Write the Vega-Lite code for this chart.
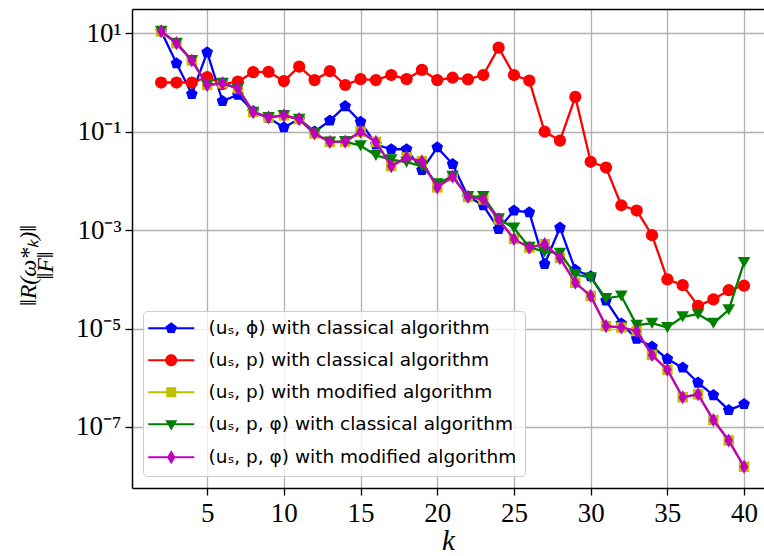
{
  "$schema": "https://vega.github.io/schema/vega-lite/v6.json",
  "width": 632,
  "height": 479,
  "autosize": {"type": "none"},
  "padding": {"left": 132, "top": 9, "right": 0, "bottom": 68},
  "background": "white",
  "config": {"view": {"stroke": null}},
  "data": {"values": [
    {"k":2,"s":"a","v":11},{"k":3,"s":"a","v":2.45},{"k":4,"s":"a","v":0.58},{"k":5,"s":"a","v":4.1},{"k":6,"s":"a","v":0.42},{"k":7,"s":"a","v":0.56},{"k":8,"s":"a","v":0.26},{"k":9,"s":"a","v":0.19},{"k":10,"s":"a","v":0.123},{"k":11,"s":"a","v":0.18},{"k":12,"s":"a","v":0.1},{"k":13,"s":"a","v":0.168},{"k":14,"s":"a","v":0.33},{"k":15,"s":"a","v":0.158},{"k":16,"s":"a","v":0.055},{"k":17,"s":"a","v":0.044},{"k":18,"s":"a","v":0.044},{"k":19,"s":"a","v":0.0166},{"k":20,"s":"a","v":0.048},{"k":21,"s":"a","v":0.022},{"k":22,"s":"a","v":0.0048},{"k":23,"s":"a","v":0.0032},{"k":24,"s":"a","v":0.00105},{"k":25,"s":"a","v":0.0025},{"k":26,"s":"a","v":0.0023},{"k":27,"s":"a","v":0.000205},{"k":28,"s":"a","v":0.00112},{"k":29,"s":"a","v":0.000155},{"k":30,"s":"a","v":0.000115},{"k":31,"s":"a","v":0.000037},{"k":32,"s":"a","v":0.0000125},{"k":33,"s":"a","v":0.0000062},{"k":34,"s":"a","v":0.0000043},{"k":35,"s":"a","v":0.0000024},{"k":36,"s":"a","v":0.0000016},{"k":37,"s":"a","v":0.00000079},{"k":38,"s":"a","v":0.00000044},{"k":39,"s":"a","v":0.00000022},{"k":40,"s":"a","v":0.00000029},
    {"k":2,"s":"b","v":1.0},{"k":3,"s":"b","v":1.0},{"k":4,"s":"b","v":1.0},{"k":5,"s":"b","v":1.28},{"k":6,"s":"b","v":0.93},{"k":7,"s":"b","v":1.04},{"k":8,"s":"b","v":1.62},{"k":9,"s":"b","v":1.65},{"k":10,"s":"b","v":1.07},{"k":11,"s":"b","v":2.1},{"k":12,"s":"b","v":1.12},{"k":13,"s":"b","v":1.7},{"k":14,"s":"b","v":0.89},{"k":15,"s":"b","v":1.17},{"k":16,"s":"b","v":1.12},{"k":17,"s":"b","v":1.42},{"k":18,"s":"b","v":1.17},{"k":19,"s":"b","v":1.8},{"k":20,"s":"b","v":1.12},{"k":21,"s":"b","v":1.25},{"k":22,"s":"b","v":1.16},{"k":23,"s":"b","v":1.42},{"k":24,"s":"b","v":5.1},{"k":25,"s":"b","v":1.42},{"k":26,"s":"b","v":1.09},{"k":27,"s":"b","v":0.1},{"k":28,"s":"b","v":0.066},{"k":29,"s":"b","v":0.51},{"k":30,"s":"b","v":0.0245},{"k":31,"s":"b","v":0.0187},{"k":32,"s":"b","v":0.0032},{"k":33,"s":"b","v":0.0025},{"k":34,"s":"b","v":0.00079},{"k":35,"s":"b","v":0.0001},{"k":36,"s":"b","v":0.000076},{"k":37,"s":"b","v":0.000029},{"k":38,"s":"b","v":0.000039},{"k":39,"s":"b","v":0.00006},{"k":40,"s":"b","v":0.000074},
    {"k":2,"s":"c","v":11},{"k":3,"s":"c","v":6.3},{"k":4,"s":"c","v":2.8},{"k":5,"s":"c","v":0.89},{"k":6,"s":"c","v":0.97},{"k":7,"s":"c","v":0.76},{"k":8,"s":"c","v":0.25},{"k":9,"s":"c","v":0.195},{"k":10,"s":"c","v":0.215},{"k":11,"s":"c","v":0.18},{"k":12,"s":"c","v":0.092},{"k":13,"s":"c","v":0.062},{"k":14,"s":"c","v":0.063},{"k":15,"s":"c","v":0.1},{"k":16,"s":"c","v":0.062},{"k":17,"s":"c","v":0.02},{"k":18,"s":"c","v":0.03},{"k":19,"s":"c","v":0.025},{"k":20,"s":"c","v":0.0074},{"k":21,"s":"c","v":0.0123},{"k":22,"s":"c","v":0.0047},{"k":23,"s":"c","v":0.0042},{"k":24,"s":"c","v":0.00165},{"k":25,"s":"c","v":0.00066},{"k":26,"s":"c","v":0.00044},{"k":27,"s":"c","v":0.00052},{"k":28,"s":"c","v":0.00027},{"k":29,"s":"c","v":0.000085},{"k":30,"s":"c","v":0.000046},{"k":31,"s":"c","v":0.0000112},{"k":32,"s":"c","v":0.0000105},{"k":33,"s":"c","v":0.0000089},{"k":34,"s":"c","v":0.0000029},{"k":35,"s":"c","v":0.00000145},{"k":36,"s":"c","v":0.0000004},{"k":37,"s":"c","v":0.00000046},{"k":38,"s":"c","v":0.000000138},{"k":39,"s":"c","v":0.000000053},{"k":40,"s":"c","v":0.0000000155},
    {"k":2,"s":"d","v":11},{"k":3,"s":"d","v":6.3},{"k":4,"s":"d","v":2.8},{"k":5,"s":"d","v":0.89},{"k":6,"s":"d","v":0.97},{"k":7,"s":"d","v":0.76},{"k":8,"s":"d","v":0.25},{"k":9,"s":"d","v":0.195},{"k":10,"s":"d","v":0.215},{"k":11,"s":"d","v":0.18},{"k":12,"s":"d","v":0.092},{"k":13,"s":"d","v":0.062},{"k":14,"s":"d","v":0.063},{"k":15,"s":"d","v":0.052},{"k":16,"s":"d","v":0.033},{"k":17,"s":"d","v":0.027},{"k":18,"s":"d","v":0.024},{"k":19,"s":"d","v":0.02},{"k":20,"s":"d","v":0.0088},{"k":21,"s":"d","v":0.0125},{"k":22,"s":"d","v":0.0048},{"k":23,"s":"d","v":0.0048},{"k":24,"s":"d","v":0.0017},{"k":25,"s":"d","v":0.0011},{"k":26,"s":"d","v":0.00045},{"k":27,"s":"d","v":0.00036},{"k":28,"s":"d","v":0.00034},{"k":29,"s":"d","v":0.000125},{"k":30,"s":"d","v":0.000108},{"k":31,"s":"d","v":0.000041},{"k":32,"s":"d","v":0.000046},{"k":33,"s":"d","v":0.0000117},{"k":34,"s":"d","v":0.0000128},{"k":35,"s":"d","v":0.0000105},{"k":36,"s":"d","v":0.0000173},{"k":37,"s":"d","v":0.0000195},{"k":38,"s":"d","v":0.0000128},{"k":39,"s":"d","v":0.000024},{"k":40,"s":"d","v":0.00022},
    {"k":2,"s":"e","v":11},{"k":3,"s":"e","v":6.3},{"k":4,"s":"e","v":2.8},{"k":5,"s":"e","v":0.89},{"k":6,"s":"e","v":0.97},{"k":7,"s":"e","v":0.76},{"k":8,"s":"e","v":0.25},{"k":9,"s":"e","v":0.195},{"k":10,"s":"e","v":0.215},{"k":11,"s":"e","v":0.18},{"k":12,"s":"e","v":0.092},{"k":13,"s":"e","v":0.062},{"k":14,"s":"e","v":0.063},{"k":15,"s":"e","v":0.1},{"k":16,"s":"e","v":0.062},{"k":17,"s":"e","v":0.02},{"k":18,"s":"e","v":0.03},{"k":19,"s":"e","v":0.025},{"k":20,"s":"e","v":0.0074},{"k":21,"s":"e","v":0.0123},{"k":22,"s":"e","v":0.0047},{"k":23,"s":"e","v":0.0042},{"k":24,"s":"e","v":0.00165},{"k":25,"s":"e","v":0.00066},{"k":26,"s":"e","v":0.00044},{"k":27,"s":"e","v":0.00052},{"k":28,"s":"e","v":0.00027},{"k":29,"s":"e","v":0.000085},{"k":30,"s":"e","v":0.000046},{"k":31,"s":"e","v":0.0000112},{"k":32,"s":"e","v":0.0000105},{"k":33,"s":"e","v":0.0000089},{"k":34,"s":"e","v":0.0000029},{"k":35,"s":"e","v":0.00000145},{"k":36,"s":"e","v":0.0000004},{"k":37,"s":"e","v":0.00000046},{"k":38,"s":"e","v":0.000000138},{"k":39,"s":"e","v":0.000000053},{"k":40,"s":"e","v":0.0000000155}
  ]},
  "resolve": {"axis": {"x": "independent", "y": "independent"}},
  "layer": [
    {
      "transform": [{"filter": {"field": "s", "equal": "a"}}],
      "mark": {"type": "line", "strokeWidth": 2.3, "color": "#0000ff"},
      "encoding": {
        "x": {"field": "k", "type": "quantitative", "scale": {"domain": [0.1, 41.3], "nice": false, "zero": false},
          "axis": {"orient": "bottom", "values": [5,10,15,20,25,30,35,40], "grid": true, "gridColor": "#b0b0b0", "gridWidth": 1.3,
            "domain": true, "domainColor": "black", "domainWidth": 1.5, "ticks": true, "tickColor": "black", "tickSize": 7, "tickWidth": 1.3,
            "labelFont": "Liberation Serif", "labelFontSize": 27, "labelColor": "black", "labelPadding": 5,
            "title": "k", "titleFont": "Liberation Serif", "titleFontStyle": "italic", "titleFontWeight": "normal", "titleFontSize": 29, "titleColor": "black", "titlePadding": 0}},
        "y": {"field": "v", "type": "quantitative", "scale": {"type": "log", "domain": [5.73e-9, 31.2], "nice": false},
          "axis": {"values": [10, 0.1, 0.001, 0.00001, 0.0000001], "grid": true, "gridColor": "#b0b0b0", "gridWidth": 1.3,
            "domain": true, "domainColor": "black", "domainWidth": 1.5, "ticks": true, "tickColor": "black", "tickSize": 7, "tickWidth": 1.3,
            "labelExpr": "datum.value > 1 ? '10¹' : datum.value > 0.01 ? '10⁻¹' : datum.value > 0.0001 ? '10⁻³' : datum.value > 0.000001 ? '10⁻⁵' : '10⁻⁷'",
            "labelFont": "Liberation Serif", "labelFontSize": 27, "labelColor": "black", "labelPadding": 4,
            "title": ["‖R(ω*ₖ)‖", "‖F‖"], "titleFont": "Liberation Serif", "titleFontStyle": "italic", "titleFontWeight": "normal", "titleFontSize": 24, "titleColor": "black",
            "titleX": -104, "titleY": 256, "titleAngle": -90, "titleAlign": "center", "titleBaseline": "middle", "titleLineHeight": 17}}
      }
    },
    {
      "transform": [{"filter": {"field": "s", "equal": "a"}}],
      "mark": {"type": "point", "filled": true, "opacity": 1, "color": "#0000ff", "shape": "M0,-1L0.951,-0.309L0.588,0.809L-0.588,0.809L-0.951,-0.309Z", "size": 150},
      "encoding": {
        "x": {"field": "k", "type": "quantitative", "axis": null},
        "y": {"field": "v", "type": "quantitative", "axis": null}
      }
    },
    {
      "transform": [{"filter": {"field": "s", "equal": "b"}}],
      "mark": {"type": "line", "strokeWidth": 2.3, "color": "#ff0000"},
      "encoding": {
        "x": {"field": "k", "type": "quantitative", "axis": null},
        "y": {"field": "v", "type": "quantitative", "axis": null}
      }
    },
    {
      "transform": [{"filter": {"field": "s", "equal": "b"}}],
      "mark": {"type": "point", "filled": true, "opacity": 1, "color": "#ff0000", "shape": "circle", "size": 150},
      "encoding": {
        "x": {"field": "k", "type": "quantitative", "axis": null},
        "y": {"field": "v", "type": "quantitative", "axis": null}
      }
    },
    {
      "transform": [{"filter": {"field": "s", "equal": "c"}}],
      "mark": {"type": "line", "strokeWidth": 2.3, "color": "#bfbf00"},
      "encoding": {
        "x": {"field": "k", "type": "quantitative", "axis": null},
        "y": {"field": "v", "type": "quantitative", "axis": null}
      }
    },
    {
      "transform": [{"filter": {"field": "s", "equal": "c"}}],
      "mark": {"type": "point", "filled": true, "opacity": 1, "color": "#bfbf00", "shape": "square", "size": 110},
      "encoding": {
        "x": {"field": "k", "type": "quantitative", "axis": null},
        "y": {"field": "v", "type": "quantitative", "axis": null}
      }
    },
    {
      "transform": [{"filter": {"field": "s", "equal": "d"}}],
      "mark": {"type": "line", "strokeWidth": 2.3, "color": "#008000"},
      "encoding": {
        "x": {"field": "k", "type": "quantitative", "axis": null},
        "y": {"field": "v", "type": "quantitative", "axis": null}
      }
    },
    {
      "transform": [{"filter": {"field": "s", "equal": "d"}}],
      "mark": {"type": "point", "filled": true, "opacity": 1, "color": "#008000", "shape": "triangle-down", "size": 160},
      "encoding": {
        "x": {"field": "k", "type": "quantitative", "axis": null},
        "y": {"field": "v", "type": "quantitative", "axis": null}
      }
    },
    {
      "transform": [{"filter": {"field": "s", "equal": "e"}}],
      "mark": {"type": "line", "strokeWidth": 2.3, "color": "#bf00bf"},
      "encoding": {
        "x": {"field": "k", "type": "quantitative", "axis": null},
        "y": {"field": "v", "type": "quantitative", "axis": null}
      }
    },
    {
      "transform": [{"filter": {"field": "s", "equal": "e"}}],
      "mark": {"type": "point", "filled": true, "opacity": 1, "color": "#bf00bf", "shape": "M0,-1L0.6,0L0,1L-0.6,0Z", "size": 200},
      "encoding": {
        "x": {"field": "k", "type": "quantitative", "axis": null},
        "y": {"field": "v", "type": "quantitative", "axis": null}
      }
    },
    {
      "mark": {"type": "point", "filled": true, "opacity": 0},
      "encoding": {
        "x": {"field": "k", "type": "quantitative",
          "axis": {"orient": "top", "labels": false, "ticks": false, "grid": false, "domain": true, "domainColor": "black", "domainWidth": 1.5, "title": null}},
        "y": {"field": "v", "type": "quantitative", "axis": null},
        "color": {"field": "s", "type": "nominal",
          "scale": {"domain": ["a","b","c","d","e"], "range": ["#0000ff","#ff0000","#bfbf00","#008000","#bf00bf"]},
          "legend": {"title": null, "orient": "none", "legendX": 11, "legendY": 302, "padding": 8,
            "symbolSize": 100, "symbolOffset": 11, "labelOffset": 28, "symbolOpacity": 1, "labelLimit": 500,
            "labelFont": "DejaVu Sans", "labelFontSize": 18.5, "labelColor": "black", "rowPadding": 13,
            "fillColor": "rgba(255,255,255,0.8)", "strokeColor": "#cccccc", "cornerRadius": 4,
            "labelExpr": "datum.value == 'a' ? '(uₛ, ϕ) with classical algorithm' : datum.value == 'b' ? '(uₛ, p) with classical algorithm' : datum.value == 'c' ? '(uₛ, p) with modified algorithm' : datum.value == 'd' ? '(uₛ, p, φ) with classical algorithm' : '(uₛ, p, φ) with modified algorithm'"}},
        "shape": {"field": "s", "type": "nominal",
          "scale": {"domain": ["a","b","c","d","e"], "range": [
            "M-4.6,-0.2H4.6V0.2H-4.6Z M0,-1.2L1.14,-0.37L0.705,0.97L-0.705,0.97L-1.14,-0.37Z",
            "M-4.6,-0.2H4.6V0.2H-4.6Z M-1.2,0A1.2,1.2,0,1,1,1.2,0A1.2,1.2,0,1,1,-1.2,0Z",
            "M-4.6,-0.2H4.6V0.2H-4.6Z M-1,-1H1V1H-1Z",
            "M-4.6,-0.2H4.6V0.2H-4.6Z M-1.2,-0.8H1.2L0,1.25Z",
            "M-4.6,-0.2H4.6V0.2H-4.6Z M0,-1.4L0.85,0L0,1.4L-0.85,0Z"]},
          "legend": {"title": null, "orient": "none", "legendX": 11, "legendY": 302, "padding": 8,
            "symbolSize": 100, "symbolOffset": 11, "labelOffset": 28, "symbolOpacity": 1, "labelLimit": 500,
            "labelFont": "DejaVu Sans", "labelFontSize": 18.5, "labelColor": "black", "rowPadding": 13,
            "fillColor": "rgba(255,255,255,0.8)", "strokeColor": "#cccccc", "cornerRadius": 4,
            "labelExpr": "datum.value == 'a' ? '(uₛ, ϕ) with classical algorithm' : datum.value == 'b' ? '(uₛ, p) with classical algorithm' : datum.value == 'c' ? '(uₛ, p) with modified algorithm' : datum.value == 'd' ? '(uₛ, p, φ) with classical algorithm' : '(uₛ, p, φ) with modified algorithm'"}}
      }
    }
  ]
}
